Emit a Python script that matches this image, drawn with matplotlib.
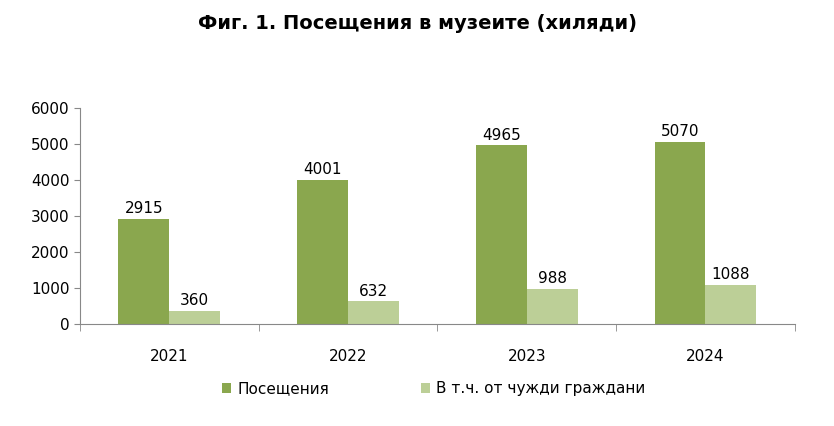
import numpy as np
import matplotlib.pyplot as plt

years = ['2021', '2022', '2023', '2024']
visits = [2915, 4001, 4965, 5070]
foreign = [360, 632, 988, 1088]

dark = '#8aa74e'
light = '#bccf97'

plt.rcParams['font.family'] = ['DejaVu Sans']
fig = plt.figure(figsize=(8.34, 4.26), dpi=100)
ax = fig.add_axes([0.096, 0.239, 0.857, 0.507])

x = np.arange(len(years))
w = 0.285
b1 = ax.bar(x - w / 2, visits, w, color=dark, label='Посещения')
b2 = ax.bar(x + w / 2, foreign, w, color=light, label='В т.ч. от чужди граждани')
for bars in (b1, b2):
    for r in bars:
        ax.text(r.get_x() + r.get_width() / 2, r.get_height() + 80, str(int(r.get_height())),
                ha='center', va='bottom', fontsize=11)

ax.set_xlim(-0.5, len(years) - 0.5)
ax.set_ylim(0, 6000)
ax.set_yticks(range(0, 6001, 1000))
ax.set_xticks(x)
ax.set_xticklabels(years, fontsize=11)
ax.set_xticks(np.arange(-0.5, len(years), 1), minor=True)
ax.tick_params(axis='x', which='major', length=0, pad=18)
ax.tick_params(axis='x', which='minor', length=5, color='#888888')
ax.tick_params(axis='y', labelsize=11, length=4, color='#888888')
for s in ('top', 'right'):
    ax.spines[s].set_visible(False)
for s in ('left', 'bottom'):
    ax.spines[s].set_color('#888888')

fig.text(0.5, 0.945, 'Фиг. 1. Посещения в музеите (хиляди)', ha='center', va='center',
         fontsize=14, fontweight='bold')
fig.legend(handles=[b1, b2], loc='center', bbox_to_anchor=(0.52, 0.087), ncol=2,
           frameon=False, fontsize=11, handlelength=0.6, handleheight=0.6,
           columnspacing=6, handletextpad=0.4)

fig.savefig('out.png', dpi=100)
